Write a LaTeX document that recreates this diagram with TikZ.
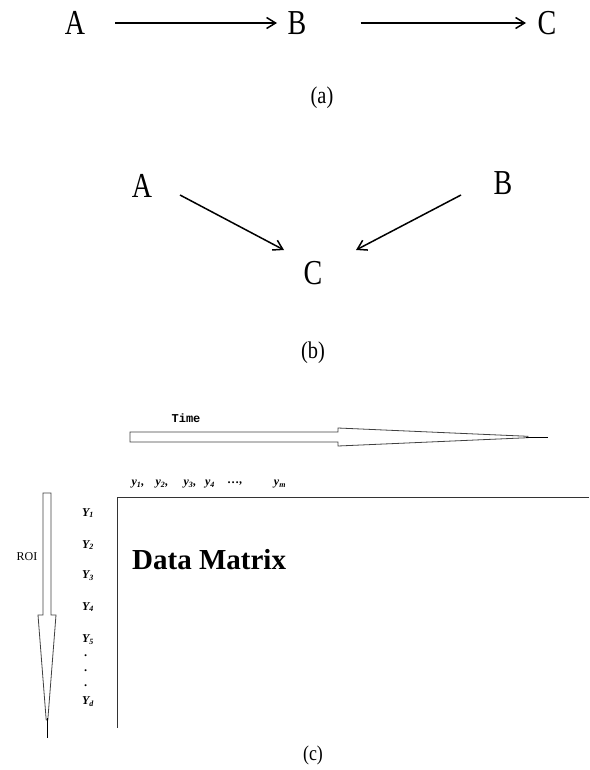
\documentclass[tikz,border=0pt]{standalone}
\usepackage{fontspec}
\setmainfont{Liberation Serif}
\setmonofont{Liberation Mono}
\usetikzlibrary{arrows.meta}
\begin{document}
\begin{tikzpicture}[x=1pt,y=-1pt,
  big/.style={inner sep=0pt,font=\fontsize{35}{35}\selectfont,xscale=0.8},
  captext/.style={inner sep=0pt,font=\fontsize{24}{24}\selectfont,xscale=0.85},
  conn/.style={line width=1.5pt,-{Straight Barb[length=9pt,width=11pt,line width=1.5pt]}},
  ylab/.style={inner sep=0pt,font=\fontsize{12}{12}\selectfont\bfseries\itshape},
  tlab/.style={inner sep=0pt,font=\fontsize{12}{12}\selectfont\bfseries\itshape},
  shaft/.style={line width=0.8pt,draw=black!75}]
\useasboundingbox (0,0) rectangle (589,770);
% (a)
\node[big] (aA) at (75,23) {A};
\node[big] (aB) at (297,23) {B};
\node[big] (aC) at (547,23) {C};
\draw[conn] (aA.east) ++(30,0) coordinate (a1) -- (a1 -| 277,0);
\draw[conn] (aB.east) ++(54,0) coordinate (a2) -- (a2 -| 526,0);
\node[captext] (capa) at (322,98) {(a)};
% (b)
\node[big] (bA) at (142,186) {A};
\node[big] (bB) at (503,183) {B};
\node[big] (bC) at (313,273) {C};
\coordinate (bA1) at (180,195);
\coordinate (bA2) at (284,250);
\coordinate (bB1) at (461,195);
\coordinate (bB2) at (356,250);
\draw[conn] (bA1) -- (bA2);
\draw[conn] (bB1) -- (bB2);
\node[captext] (capb) at (313,353) {(b)};
% (c) time arrow
\node[inner sep=0pt,font=\fontsize{12}{12}\selectfont\ttfamily\bfseries] (time) at (186,418) {Time};
\draw[shaft] (130,432) -- (338,432) -- (338,428) -- (528,436.3) -- (528,437.7) -- (338,446) -- (338,442) -- (130,442) -- cycle;
\draw[line width=1pt] (526,437) -- (548,437);
% labels along time
\node[tlab] (t1) at (138,484) {y\textsubscript{1},};
\node[tlab] (t2) at (162,484) {y\textsubscript{2},};
\node[tlab] (t3) at (190,484) {y\textsubscript{3},};
\node[tlab] (t4) at (210,484) {y\textsubscript{4}};
\node[tlab] (t5) at (235,484) {\dots,};
\node[tlab] (t6) at (280,484) {y\textsubscript{m}};
% matrix axes
\draw[line width=0.9pt,draw=black!80] (589,497) -- (117,497) -- (117,728);
\node[inner sep=0pt,font=\fontsize{29}{29}\selectfont\bfseries,anchor=west] (dm) at (132,560) {Data Matrix};
% ROI arrow
\draw[shaft] (43,493) -- (51,493) -- (51,615) -- (56,615) -- (47.8,720) -- (46.2,720) -- (38,615) -- (43,615) -- cycle;
\draw[line width=1pt] (47,718) -- (47,738);
\node[inner sep=0pt,font=\fontsize{12}{12}\selectfont] (roi) at (27,557) {ROI};
\node[ylab] (Y1) at (88,513) {Y\textsubscript{1}};
\node[ylab] (Y2) at (88,545) {Y\textsubscript{2}};
\node[ylab] (Y3) at (88,576) {Y\textsubscript{3}};
\node[ylab] (Y4) at (88,607) {Y\textsubscript{4}};
\node[ylab] (Y5) at (88,640) {Y\textsubscript{5}};
\node[ylab] (d1) at (86,656) {.};
\node[ylab] (d2) at (86,671) {.};
\node[ylab] (d3) at (86,686) {.};
\node[ylab] (Yd) at (88,702) {Y\textsubscript{d}};
\node[captext,font=\fontsize{21}{21}\selectfont] (capc) at (313,755) {(c)};
\end{tikzpicture}
\end{document}
